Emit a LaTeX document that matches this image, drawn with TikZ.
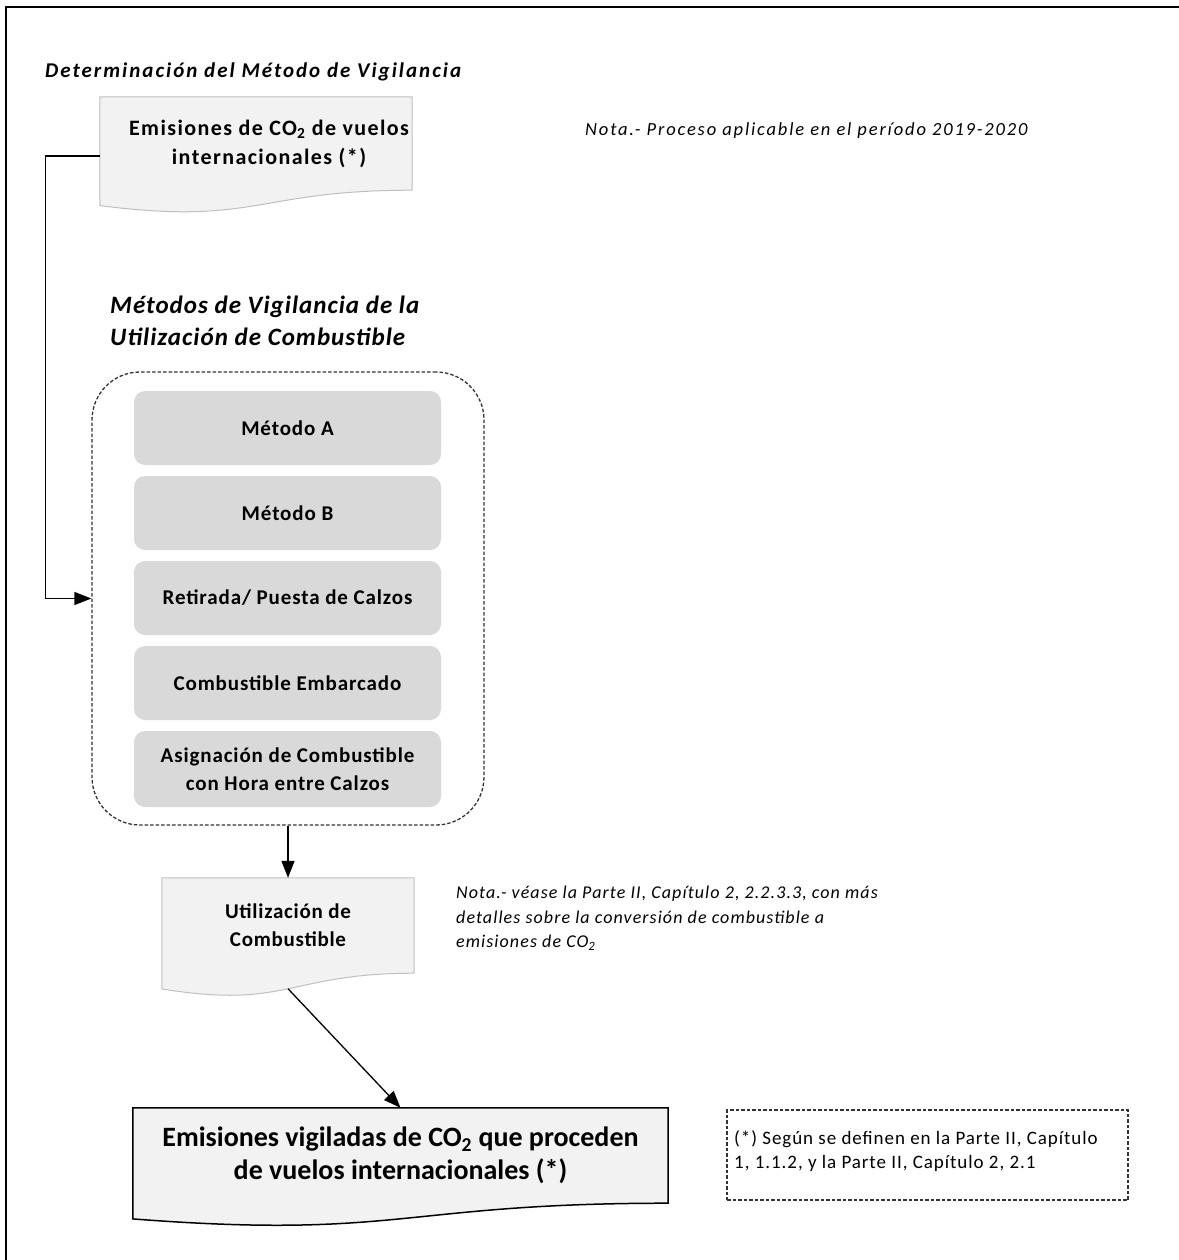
\documentclass[tikz,border=0pt]{standalone}
\usepackage{fontspec}
\setmainfont{Carlito}
\usetikzlibrary{arrows.meta,calc,backgrounds}
\definecolor{docfill}{HTML}{F2F2F2}
\definecolor{docline}{HTML}{BFBFBF}
\definecolor{methfill}{HTML}{D9D9D9}
\definecolor{dashline}{HTML}{333333}
% font size, baseline skip, letter spacing
\newcommand\fsz[3]{\fontsize{#1}{#2}\selectfont\addfontfeature{LetterSpace=#3}}
\tikzset{
  x=1pt, y=-1pt,
  conn/.style={line width=1.3pt, draw=black},
  arr/.style={conn, -{Triangle[length=17pt,width=13pt]}},
  docnode/.style={inner sep=0pt, align=center},
  method/.style={fill=methfill, rounded corners=11pt, minimum width=307pt,
    inner sep=0pt, align=center, font=\fsz{21}{28}{4.2}\bfseries},
  groupbox/.style={draw=dashline, dashed, dash pattern=on 3.5pt off 2pt,
    line width=1.3pt, rounded corners=48pt},
  notetext/.style={inner sep=0pt, align=left},
}
% flowchart "document" shape behind a node: #1 node, #2 style
\newcommand\docshape[2]{%
  \path[#2] let \p1=(#1.north west), \p2=(#1.south east) in
    (\x1,\y1) -- (\x2,\y1) -- (\x2,\y2)
    .. controls ({0.5*(\x1+\x2)},\y2) and ({0.5*(\x1+\x2)},{\y1+1.381*(\y2-\y1)})
    .. (\x1,{\y1+1.1646*(\y2-\y1)}) -- cycle;}
\begin{document}
\begin{tikzpicture}
\useasboundingbox (0,0) rectangle (1178,1260);

% page frame
\draw[line width=2pt] (6,1262) -- (6,7) -- (1180,7);

% heading texts
\node[notetext, anchor=west, font=\fsz{21}{25}{9.5}\bfseries\itshape] (title)
  at (45,72) {Determinación del Método de Vigilancia};
\node[notetext, anchor=west, font=\fsz{18.5}{22}{10}\itshape] (note1)
  at (585,131) {Nota.- Proceso aplicable en el período 2019-2020};
\node[notetext, anchor=west, font=\fsz{25}{32}{4}\bfseries\itshape] (head)
  at (110,321) {Métodos de Vigilancia de la\\Utilización de Combustible};

% first document box and its text
\node[docnode, minimum width=312pt, minimum height=93pt] (src) at (256,143.5) {};
\node[docnode, font=\fsz{22}{29}{6.5}\bfseries] (srctxt) at ([xshift=13pt]src.center)
  {Emisiones de CO\textsubscript{2} de vuelos\\internacionales (*)};

% group of monitoring methods
\node[groupbox, minimum width=392pt, minimum height=453pt] (grp) at (288,598.5) {};
\node[method, minimum height=74pt] (mA) at (287.5,428) {Método A};
\node[method, minimum height=74pt] (mB) at (287.5,513) {Método B};
\node[method, minimum height=74pt] (mC) at (287.5,598) {Retirada/ Puesta de Calzos};
\node[method, minimum height=74pt] (mD) at (287.5,683) {Combustible Embarcado};
\node[method, minimum height=76pt] (mE) at (287.5,769)
  {Asignación de Combustible\\con Hora entre Calzos};

% fuel use document box
\node[docnode, minimum width=252pt, minimum height=95pt,
  font=\fsz{21}{28}{3.5}\bfseries] (use) at (288,925.5)
  {Utilización de\\Combustible};
\coordinate (usebot) at ([yshift=-15.5pt]use.south);

\node[notetext, anchor=north west, font=\fsz{18}{24.5}{6}\itshape] (note2)
  at (456,886) {Nota.- véase la Parte II, Capítulo 2, 2.2.3.3, con más\\
  detalles sobre la conversión de combustible a\\emisiones de CO\textsubscript{2}};

% monitored emissions document box
\node[docnode, minimum width=535pt, minimum height=95pt,
  font=\fsz{28}{33}{0}\bfseries] (out) at (400.5,1155.5)
  {Emisiones vigiladas de CO\textsubscript{2} que proceden\\de vuelos internacionales (*)};

% footnote box
\node[draw=dashline, dashed, dash pattern=on 3.5pt off 2pt, line width=1.3pt,
  minimum width=401pt, minimum height=90pt] (foot) at (927.5,1155) {};
\node[notetext, anchor=north west, font=\fsz{19}{24}{5}] (foottxt)
  at (734,1130) {(*) Según se definen en la Parte II, Capítulo\\
  1, 1.1.2, y la Parte II, Capítulo 2, 2.1};

% document shapes behind their texts
\begin{scope}[on background layer]
  \docshape{src}{fill=docfill, draw=docline, line width=1pt}
  \docshape{use}{fill=docfill, draw=docline, line width=1pt}
  \docshape{out}{fill=docfill, draw=black, line width=1.5pt}
\end{scope}

% connectors
\draw[arr] ([yshift=-12.5pt]src.west) -- ++(-54,0) |- (grp.west);
\draw[arr] (grp.south) -- (use.north);
\draw[arr] (usebot) -- (out.north);
\end{tikzpicture}
\end{document}
